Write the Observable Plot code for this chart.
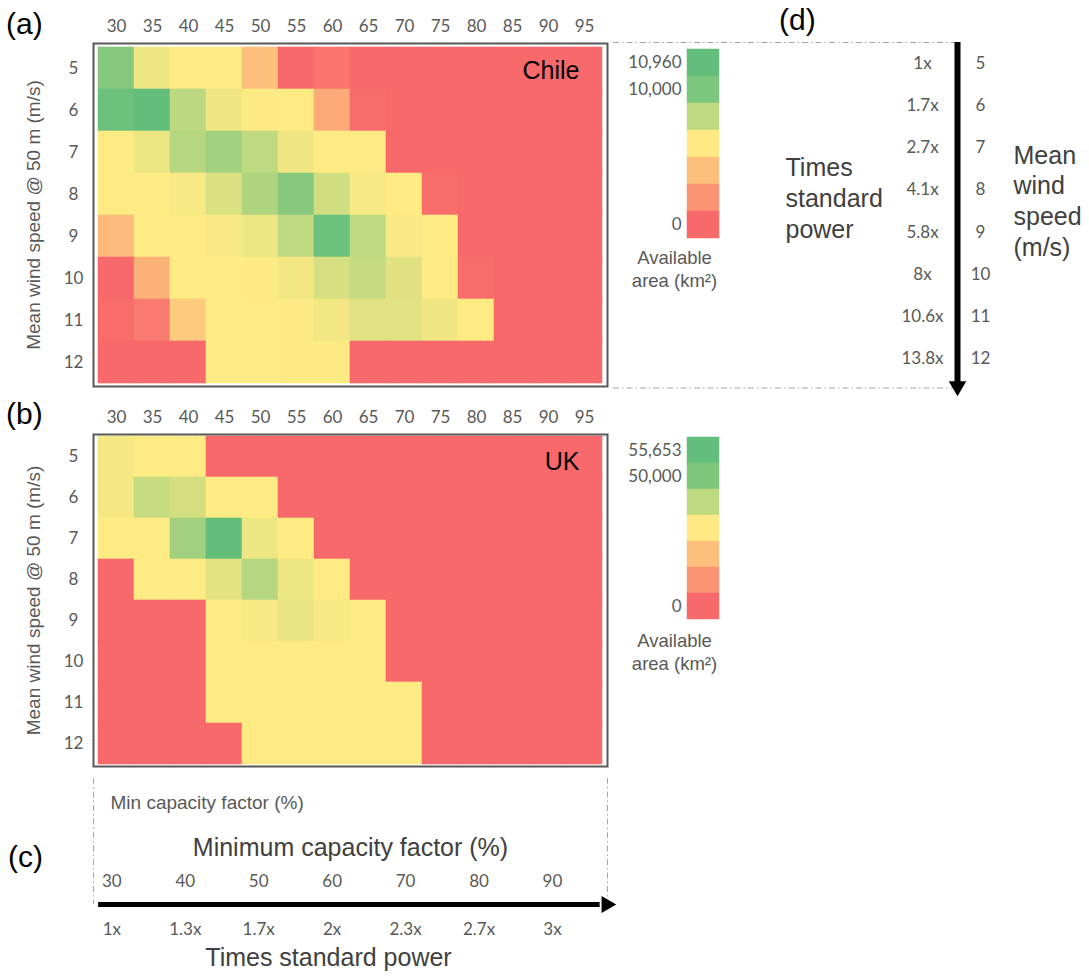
<!DOCTYPE html>
<html>
<head>
<meta charset="utf-8">
<script src="https://cdn.jsdelivr.net/npm/d3@7"></script>
<script src="https://cdn.jsdelivr.net/npm/@observablehq/plot@0.6"></script>
<style>
  html, body { margin: 0; padding: 0; background: white; }
  #root { position: relative; width: 1089px; height: 976px; overflow: hidden; background: white; }
  .panel { position: absolute; }
  .plabel { position: absolute; font-family: "Liberation Sans", Arial, sans-serif; font-size: 30px; line-height: 30px; color: #000; }
</style>
</head>
<body>
<div id="root">
  <div class="plabel" style="left:6px; top:9px;">(a)</div>
  <div class="plabel" style="left:6px; top:399px;">(b)</div>
  <div class="plabel" style="left:8px; top:842px;">(c)</div>
  <div class="plabel" style="left:779px; top:5px;">(d)</div>
</div>
<script>
// ---------------- data ----------------
const capacityFactors = [30, 35, 40, 45, 50, 55, 60, 65, 70, 75, 80, 85, 90, 95];
const windSpeeds = [5, 6, 7, 8, 9, 10, 11, 12];

// available area (km2), rows = wind speed 5..12, cols = min capacity factor 30..95
const chileArea = [
  [9290, 3880, 3080, 3000, 2010, 0, 270, 0, 0, 0, 0, 0, 0, 0],
  [10480, 10960, 6420, 3800, 3160, 3000, 1530, 90, 0, 0, 0, 0, 0, 0],
  [3000, 3960, 6740, 7780, 6260, 3800, 3000, 3000, 0, 0, 0, 0, 0, 0],
  [3000, 3000, 3400, 4830, 7140, 9130, 5390, 3400, 3000, 90, 0, 0, 0, 0],
  [1890, 3000, 3000, 3320, 3960, 6260, 10480, 6260, 3320, 3000, 0, 0, 0, 0],
  [0, 1650, 3000, 3000, 3160, 3640, 5070, 5950, 4590, 3000, 90, 0, 0, 0],
  [60, 420, 2250, 3000, 3000, 3160, 3640, 4510, 4510, 3800, 3000, 0, 0, 0],
  [0, 0, 0, 3000, 3000, 3160, 3160, 0, 0, 0, 0, 0, 0, 0]
];
const ukArea = [
  [17600, 15000, 15000, 0, 0, 0, 0, 0, 0, 0, 0, 0, 0, 0],
  [17600, 29640, 26380, 15000, 15000, 0, 0, 0, 0, 0, 0, 0, 0, 0],
  [15000, 15400, 39390, 55653, 19880, 15000, 0, 0, 0, 0, 0, 0, 0, 0],
  [0, 15000, 15000, 21910, 34110, 19880, 15000, 0, 0, 0, 0, 0, 0, 0],
  [0, 0, 0, 15000, 17030, 21100, 17030, 15000, 0, 0, 0, 0, 0, 0],
  [0, 0, 0, 15000, 15000, 15000, 15400, 15000, 0, 0, 0, 0, 0, 0],
  [0, 0, 0, 15000, 15000, 15000, 15000, 15000, 15000, 0, 0, 0, 0, 0],
  [0, 0, 0, 0, 15000, 15000, 15000, 15000, 15000, 0, 0, 0, 0, 0]
];
const chileMid = 3000, chileMax = 10960;
const ukMid = 15000, ukMax = 55653;

const chileLegendValues = [10960, 9610, 6260, 2950, 1980, 990, 0];
const chileLegendLabels = ["10,960", "10,000", "", "", "", "", "0"];
const ukLegendValues = [55653, 48400, 31700, 14750, 9900, 4950, 0];
const ukLegendLabels = ["55,653", "50,000", "", "", "", "", "0"];

const windPowerMultiples = ["1x", "1.7x", "2.7x", "4.1x", "5.8x", "8x", "10.6x", "13.8x"];
const cfTicks = [30, 40, 50, 60, 70, 80, 90];
const cfPowerMultiples = ["1x", "1.3x", "1.7x", "2x", "2.3x", "2.7x", "3x"];

// ---------------- style ----------------
const RED = "#F8696B", YELLOW = "#FFEB84", GREEN = "#63BE7B";
const GRAY = "#595959", DARK = "#404040", DASH = "#A6A6A6";
const SANS = "Liberation Sans, Arial, sans-serif";
const baseStyle = {fontFamily: "Lato, sans-serif", fontSize: "17px", color: GRAY, background: "transparent", overflow: "visible"};
const yTitle = "Mean wind speed @ 50 m (m/s)";

function colorScale(mid, max) {
  return {type: "linear", domain: [0, mid, max], range: [RED, YELLOW, GREEN], interpolate: "rgb"};
}

function place(node, left, top) {
  const d = document.createElement("div");
  d.className = "panel";
  d.style.left = left + "px";
  d.style.top = top + "px";
  d.appendChild(node);
  document.getElementById("root").appendChild(d);
}

function heatmap(values, mid, max, name, height, marginBottom) {
  const cells = windSpeeds.flatMap((ws, i) => capacityFactors.map((cf, j) => ({ws, cf, v: values[i][j]})));
  return Plot.plot({
    width: 620, height,
    marginLeft: 93, marginRight: 13, marginTop: 43, marginBottom,
    style: baseStyle,
    x: {type: "band", domain: capacityFactors, padding: 0},
    y: {type: "band", domain: windSpeeds, padding: 0},
    color: colorScale(mid, max),
    marks: [
      Plot.cell(cells, {x: "cf", y: "ws", fill: "v", stroke: "v", strokeWidth: 0.6}),
      Plot.axisX({anchor: "top", tickSize: 0, tickPadding: 12, label: null}),
      Plot.axisY({anchor: "left", tickSize: 0, tickPadding: 20, textAnchor: "middle", label: null}),
      Plot.frame({stroke: GRAY, strokeWidth: 2}),
      Plot.text([name], {frameAnchor: "top-right", dx: -28, dy: 27, textAnchor: "end", lineAnchor: "middle", fontSize: 25, fontFamily: SANS, fill: "black"}),
      Plot.text([yTitle], {frameAnchor: "left", dx: -60, rotate: -90, textAnchor: "middle", lineAnchor: "middle", fontSize: 19, fontFamily: SANS, fill: GRAY})
    ]
  });
}

function legend(values, labels, mid, max, marginBottom, titleDy) {
  return Plot.plot({
    width: 130, height: 260,
    marginLeft: 77, marginRight: 21, marginTop: 8, marginBottom,
    style: baseStyle,
    y: {type: "band", domain: d3.range(values.length), padding: 0, axis: null},
    color: colorScale(mid, max),
    marks: [
      Plot.cell(values, {y: (d, i) => i, fill: d => d, stroke: d => d, strokeWidth: 0.5}),
      Plot.text(values, {y: (d, i) => i, text: (d, i) => labels[i], frameAnchor: "left", dx: -6, textAnchor: "end", lineAnchor: "middle"}),
      Plot.text(["Available\narea (km²)"], {frameAnchor: "bottom", dx: -29, dy: titleDy, textAnchor: "middle", lineAnchor: "middle", fontSize: 18.5, fontFamily: SANS, lineHeight: 1.25, fill: GRAY})
    ]
  });
}

// panel (d): wind speed arrow
const panelD = Plot.plot({
  width: 489, height: 410,
  marginLeft: 13, marginRight: 132, marginTop: 42, marginBottom: 31,
  style: baseStyle,
  x: {domain: [0, 1], axis: null},
  y: {domain: [4.5, 12.5], reverse: true, axis: null},
  marks: [
    Plot.ruleY([4.5, 12.7], {stroke: DASH, strokeWidth: 1, strokeDasharray: "6,3,1.5,3"}),
    Plot.ruleX([1], {y1: 4.5, y2: 12.6, stroke: "black", strokeWidth: 6}),
    Plot.dot([1], {x: d => d, y: () => 12.66, symbol: "triangle", r: 6.5, fill: "black", stroke: null, rotate: 180}),
    Plot.text(windPowerMultiples, {x: () => 1, y: (d, i) => windSpeeds[i], dx: -35, text: d => d}),
    Plot.text(windSpeeds, {x: () => 1, y: d => d, dx: 23, text: d => String(d)}),
    Plot.text(["Times\nstandard\npower"], {x: () => 1, y: () => 8, dx: -172, dy: 7, textAnchor: "start", fontSize: 25, lineHeight: 1.24, fontFamily: SANS, fill: DARK}),
    Plot.text(["Mean\nwind\nspeed\n(m/s)"], {x: () => 1, y: () => 8, dx: 56, dy: 10, textAnchor: "start", fontSize: 25, lineHeight: 1.23, fontFamily: SANS, fill: DARK})
  ]
});

// panel (c): capacity factor arrow
const panelC = Plot.plot({
  width: 640, height: 206,
  marginLeft: 93, marginRight: 33, marginTop: 8, marginBottom: 72,
  style: baseStyle,
  x: {domain: [27.5, 97.5], axis: null},
  y: {domain: [0, 1], axis: null},
  marks: [
    Plot.ruleX([27.5, 97.5], {stroke: DASH, strokeWidth: 1, strokeDasharray: "6,3,1.5,3"}),
    Plot.ruleY([0], {x1: 28.2, x2: 96.5, stroke: "black", strokeWidth: 5}),
    Plot.dot([0], {x: () => 97.36, y: d => d, symbol: "triangle", r: 6.3, fill: "black", stroke: null, rotate: 90}),
    Plot.text(cfTicks, {x: d => d, y: () => 0, dy: -23, text: d => String(d)}),
    Plot.text(cfPowerMultiples, {x: (d, i) => cfTicks[i], y: () => 0, dy: 25, text: d => d}),
    Plot.text(["Min capacity factor (%)"], {x: () => 27.5, y: () => 1, dx: 17, dy: 24, textAnchor: "start", fontSize: 19, fontFamily: SANS, fill: GRAY}),
    Plot.text(["Minimum capacity factor (%)"], {x: () => 62.5, y: () => 0, dy: -57, fontSize: 25, fontFamily: SANS, fill: DARK}),
    Plot.text(["Times standard power"], {x: () => 62.5, y: () => 0, dx: -22, dy: 53, fontSize: 25, fontFamily: SANS, fill: DARK})
  ]
});

place(panelD, 600, 0);
place(heatmap(chileArea, chileMid, chileMax, "Chile", 400, 14), 0, 0);
place(heatmap(ukArea, ukMid, ukMax, "UK", 385, 10), 0, 391);
place(legend(chileLegendValues, chileLegendLabels, chileMid, chileMax, 62, 30), 610, 40);
place(legend(ukLegendValues, ukLegendLabels, ukMid, ukMax, 64, 29), 610, 426);
place(panelC, 0, 770);
</script>
</body>
</html>
